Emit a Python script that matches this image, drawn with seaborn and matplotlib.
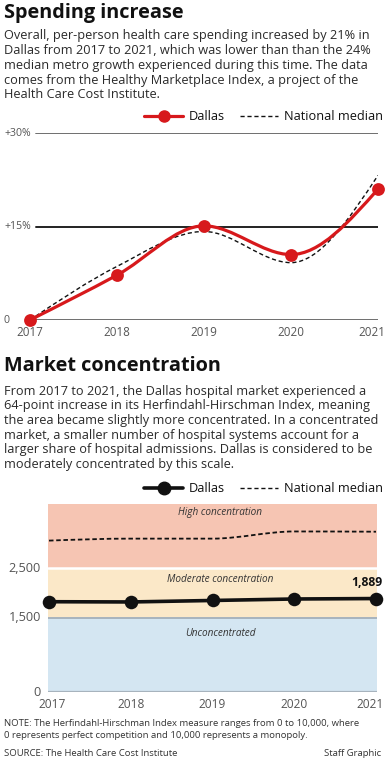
import numpy as np
import pandas as pd
import matplotlib
matplotlib.use("Agg")
import matplotlib.pyplot as plt
import matplotlib.transforms as mtransforms
import seaborn as sns
from matplotlib.path import Path
from matplotlib.patches import PathPatch
from matplotlib.lines import Line2D

# ---------------- data ----------------
years = [2017, 2018, 2019, 2020, 2021]
dallas_spending = [0, 7.2, 15.1, 10.5, 21.0]
national_spending = [0, 8.6, 14.2, 9.2, 23.2]
spend_ticks = [0, 15, 30]
spend_tick_labels = ["0", "+15%", "+30%"]

dallas_hhi = [1825, 1820, 1850, 1880, 1889]
national_hhi = [3060, 3100, 3100, 3245, 3240]
hhi_ticks = [0, 1500, 2500]
hhi_tick_labels = ["0", "1,500", "2,500"]
zone_bounds = [0, 1500, 2500, 3800]
zone_labels = ["Unconcentrated", "Moderate concentration", "High concentration"]
zone_colors = ["#d4e6f2", "#fbe8c8", "#f6c5b3"]

title1 = "Spending increase"
body1 = ["Overall, per-person health care spending increased by 21% in",
         "Dallas from 2017 to 2021, which was lower than than the 24%",
         "median metro growth experienced during this time. The data",
         "comes from the Healthy Marketplace Index, a project of the",
         "Health Care Cost Institute."]
title2 = "Market concentration"
body2 = ["From 2017 to 2021, the Dallas hospital market experienced a",
         "64-point increase in its Herfindahl-Hirschman Index, meaning",
         "the area became slightly more concentrated. In a concentrated",
         "market, a smaller number of hospital systems account for a",
         "larger share of hospital admissions. Dallas is considered to be",
         "moderately concentrated by this scale."]
note = ["NOTE: The Herfindahl-Hirschman Index measure ranges from 0 to 10,000, where",
        "0 represents perfect competition and 10,000 represents a monopoly."]
source = "SOURCE: The Health Care Cost Institute"
credit = "Staff Graphic"

# ---------------- style ----------------
sns.set_theme(style="white")
plt.rcParams["font.family"] = ["Open Sans", "DejaVu Sans"]

W, H = 389, 768
fig = plt.figure(figsize=(W / 100, H / 100), dpi=100)
fig.patch.set_facecolor("white")

RED = "#d7191c"
TXT = "#2a2a2a"
GRAY = "#555555"


def fx(x):
    return x / W


def fy(y):
    return 1 - y / H


def ptext(x, y, s, **kw):
    kw.setdefault("va", "center")
    kw.setdefault("ha", "left")
    fig.text(fx(x), fy(y), s, **kw)


def axes_px(left, top, right, bottom):
    return fig.add_axes([fx(left), fy(bottom), (right - left) / W, (bottom - top) / H])


def monotone_path(x, y):
    x = np.asarray(x, float)
    y = np.asarray(y, float)
    n = len(x)
    h = np.diff(x)
    d = np.diff(y) / h
    m = np.zeros(n)
    for i in range(1, n - 1):
        s0, s1 = d[i - 1], d[i]
        p = (s0 * h[i] + s1 * h[i - 1]) / (h[i - 1] + h[i])
        m[i] = (np.sign(s0) + np.sign(s1)) * min(abs(s0), abs(s1), 0.5 * abs(p))
    m[0] = (3 * d[0] - m[1]) / 2
    m[-1] = (3 * d[-1] - m[-2]) / 2
    verts = [(x[0], y[0])]
    codes = [Path.MOVETO]
    for i in range(n - 1):
        dx = h[i] / 3
        verts += [(x[i] + dx, y[i] + m[i] * dx),
                  (x[i + 1] - dx, y[i + 1] - m[i + 1] * dx),
                  (x[i + 1], y[i + 1])]
        codes += [Path.CURVE4] * 3
    return Path(verts, codes)


BODY_FS = 9.2

# ---------------- header 1 ----------------
ptext(4, 13, title1, fontsize=14.3, fontweight="bold", color="#111111")
for i, line in enumerate(body1):
    ptext(4, 36 + i * 14.7, line, fontsize=BODY_FS, color=TXT)

# ---------------- chart 1 ----------------
ax1 = axes_px(30, 133, 378, 320)
ax1.set_xlim(2017, 2021)
ax1.set_ylim(0, 30)
ax1.axis("off")
grid_colors = {0: "#6f6f6f", 15: "#222222", 30: "#6f6f6f"}
tr1 = mtransforms.blended_transform_factory(fig.transFigure, ax1.transData)
for t, lab in zip(spend_ticks, spend_tick_labels):
    ax1.axhline(t, xmin=6 / 348, xmax=1, color=grid_colors[t], lw=1.4, zorder=1)
    ax1.text(4 / W, t, lab, transform=tr1, ha="left", va="center", fontsize=7.6, color=GRAY)
for yr in years:
    ax1.annotate(str(yr), xy=(yr, 0), xytext=(-6 if yr == years[-1] else 0, -12),
                 textcoords="offset pixels", ha="center", va="center", fontsize=8.4,
                 color=GRAY, annotation_clip=False)

ax1.add_patch(PathPatch(monotone_path(years, national_spending), fill=False,
                        edgecolor="#111111", lw=1.0, ls=(0, (3, 2)), zorder=3))
ax1.add_patch(PathPatch(monotone_path(years, dallas_spending), fill=False,
                        edgecolor=RED, lw=2.3, zorder=4, capstyle="round"))
df1 = pd.DataFrame({"year": years, "value": dallas_spending})
sns.scatterplot(data=df1, x="year", y="value", ax=ax1, s=85, color=RED,
                edgecolor=RED, linewidth=0, zorder=5, clip_on=False, legend=False)
ax1.axis("off")

LEG_FS = 9.2
h_red = Line2D([], [], color=RED, lw=2.3, marker="o", markersize=8)
h_dash = Line2D([], [], color="#111111", lw=1.0, ls=(0, (3, 2)))
fig.legend([h_red, h_dash], ["Dallas", "National median"], ncol=2, frameon=False,
           loc="center right", bbox_to_anchor=(fx(383), fy(117)), fontsize=LEG_FS,
           handlelength=3.0, handletextpad=0.45, columnspacing=1.2, borderpad=0,
           borderaxespad=0, labelcolor="#111111")

# ---------------- header 2 ----------------
ptext(4, 366, title2, fontsize=14.3, fontweight="bold", color="#111111")
for i, line in enumerate(body2):
    ptext(4, 391 + i * 14.7, line, fontsize=BODY_FS, color=TXT)

# ---------------- chart 2 ----------------
ax2 = axes_px(48, 504, 377, 692)
pad = 1 / 81.75
ax2.set_xlim(2017 - pad, 2021 + pad)
ax2.set_ylim(zone_bounds[0], zone_bounds[-1])
for lo, hi, col in zip(zone_bounds[:-1], zone_bounds[1:], zone_colors):
    ax2.axhspan(lo, hi, color=col, lw=0, zorder=0)
ax2.axhline(2500, color="white", lw=1.8, zorder=1)
ax2.axhline(1500, color="#a7b3bd", lw=1.4, zorder=1)
ax2.axhline(0, color="#a7b3bd", lw=1.6, zorder=1)
lab_y = [633, 579, 513]
for lab, y in zip(zone_labels, lab_y):
    ptext(220, y, lab, ha="center", fontsize=7.2, fontstyle="italic", color="#333333")
tr2 = mtransforms.blended_transform_factory(fig.transFigure, ax2.transData)
for t, lab in zip(hhi_ticks, hhi_tick_labels):
    ax2.text(41 / W, t, lab, transform=tr2, ha="right", va="center", fontsize=9.2, color=GRAY)
for yr in years:
    ax2.annotate(str(yr), xy=(yr, 0), xytext=(3 if yr == years[0] else (-6 if yr == years[-1] else 0), -13),
                 textcoords="offset pixels", ha="center", va="center", fontsize=8.6,
                 color=GRAY, annotation_clip=False)

ax2.add_patch(PathPatch(monotone_path(years, national_hhi), fill=False,
                        edgecolor="#111111", lw=1.3, ls=(0, (2.5, 1.5)), zorder=3))
df2 = pd.DataFrame({"year": years, "value": dallas_hhi})
sns.lineplot(data=df2, x="year", y="value", ax=ax2, color="#111111", lw=2.6, zorder=4)
sns.scatterplot(data=df2, x="year", y="value", ax=ax2, s=95, color="#111111",
                edgecolor="#111111", linewidth=0, zorder=5, clip_on=False, legend=False)
ax2.annotate(f"{dallas_hhi[-1]:,}", xy=(years[-1], dallas_hhi[-1]), xytext=(6, 16),
             textcoords="offset pixels", ha="right", va="center", fontsize=8.8,
             fontweight="bold", color="#111111", annotation_clip=False)
ax2.axis("off")

h_blk = Line2D([], [], color="#111111", lw=2.6, marker="o", markersize=9)
h_dash2 = Line2D([], [], color="#111111", lw=1.0, ls=(0, (3, 2)))
fig.legend([h_blk, h_dash2], ["Dallas", "National median"], ncol=2, frameon=False,
           loc="center right", bbox_to_anchor=(fx(383), fy(489)), fontsize=LEG_FS,
           handlelength=3.0, handletextpad=0.45, columnspacing=1.2, borderpad=0,
           borderaxespad=0, labelcolor="#111111")

# ---------------- footer ----------------
FOOT_FS = 6.8
ptext(4, 723, note[0], fontsize=FOOT_FS, color="#333333")
ptext(4, 735, note[1], fontsize=FOOT_FS, color="#333333")
ptext(4, 754, source, fontsize=FOOT_FS, color="#333333")
ptext(381, 754, credit, ha="right", fontsize=FOOT_FS, color="#333333")

fig.savefig("out.png", dpi=100, facecolor="white")
